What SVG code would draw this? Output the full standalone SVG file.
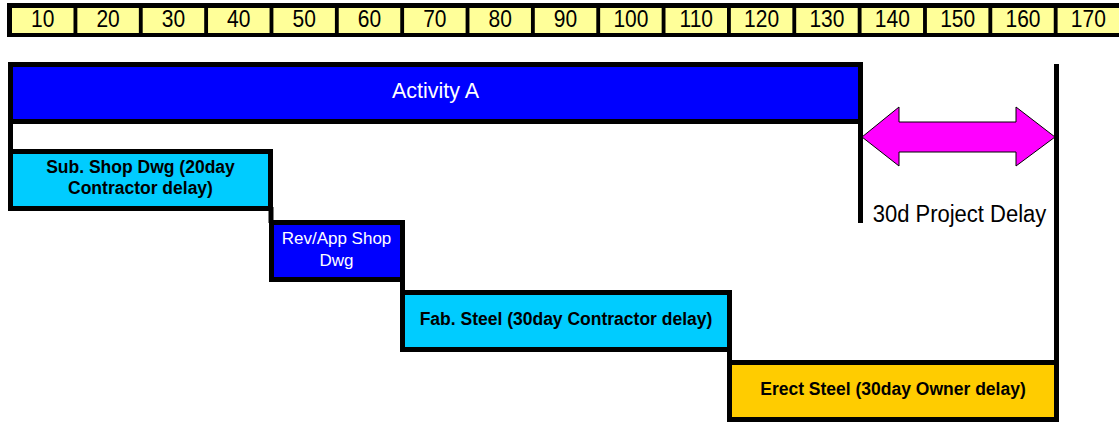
<svg xmlns="http://www.w3.org/2000/svg" width="1119" height="422" viewBox="0 0 1119 422">
<style>
.cell{fill:#FFFF99;}
.num{font-family:"Liberation Sans",Arial,sans-serif;font-size:21px;fill:#000;text-anchor:middle;}
.box{stroke:#000;stroke-width:5;}
.lbl{font-family:"Liberation Sans",Arial,sans-serif;text-anchor:middle;}
.b{font-weight:bold;font-size:17.5px;fill:#000;}
.conn{stroke:#000;stroke-width:5;fill:none;}
</style>
<rect width="1119" height="422" fill="#FFFFFF"/>
<g id="ruler">
<rect x="7" y="3" width="1112" height="34" fill="#000"/>
<rect class="cell" x="12" y="8" width="61.5" height="25"/>
<rect class="cell" x="77.35" y="8" width="61.5" height="25"/>
<rect class="cell" x="142.7" y="8" width="61.5" height="25"/>
<rect class="cell" x="208.05" y="8" width="61.5" height="25"/>
<rect class="cell" x="273.4" y="8" width="61.5" height="25"/>
<rect class="cell" x="338.75" y="8" width="61.5" height="25"/>
<rect class="cell" x="404.1" y="8" width="61.5" height="25"/>
<rect class="cell" x="469.45" y="8" width="61.5" height="25"/>
<rect class="cell" x="534.8" y="8" width="61.5" height="25"/>
<rect class="cell" x="600.15" y="8" width="61.5" height="25"/>
<rect class="cell" x="665.5" y="8" width="61.5" height="25"/>
<rect class="cell" x="730.85" y="8" width="61.5" height="25"/>
<rect class="cell" x="796.2" y="8" width="61.5" height="25"/>
<rect class="cell" x="861.55" y="8" width="61.5" height="25"/>
<rect class="cell" x="926.9" y="8" width="61.5" height="25"/>
<rect class="cell" x="992.25" y="8" width="61.5" height="25"/>
<rect class="cell" x="1057.6" y="8" width="61.4" height="25"/>
<g transform="translate(0,27) scale(1,1.1)">
<text class="num" x="42.75" y="0">10</text>
<text class="num" x="108.1" y="0">20</text>
<text class="num" x="173.45" y="0">30</text>
<text class="num" x="238.8" y="0">40</text>
<text class="num" x="304.15" y="0">50</text>
<text class="num" x="369.5" y="0">60</text>
<text class="num" x="434.85" y="0">70</text>
<text class="num" x="500.2" y="0">80</text>
<text class="num" x="565.55" y="0">90</text>
<text class="num" x="630.9" y="0">100</text>
<text class="num" x="696.25" y="0">110</text>
<text class="num" x="761.6" y="0">120</text>
<text class="num" x="826.95" y="0">130</text>
<text class="num" x="892.3" y="0">140</text>
<text class="num" x="957.65" y="0">150</text>
<text class="num" x="1023" y="0">160</text>
<text class="num" x="1088.3" y="0">170</text>
</g>
</g>
<g id="connectors">
<line class="conn" x1="10.5" y1="121" x2="10.5" y2="152"/>
<line class="conn" x1="271" y1="207" x2="271" y2="223"/>
<line class="conn" x1="402.5" y1="280" x2="402.5" y2="293"/>
<line class="conn" x1="729.5" y1="350" x2="729.5" y2="363"/>
<line class="conn" x1="860.5" y1="62" x2="860.5" y2="223"/>
<line class="conn" x1="1056.5" y1="64" x2="1056.5" y2="363"/>
</g>
<g id="activity-a">
<rect class="box" x="10.5" y="64.5" width="850" height="57" fill="#0000FF"/>
<text class="lbl" x="435.5" y="98" font-size="21.5" fill="#FFFFFF">Activity A</text>
</g>
<g id="sub-shop-dwg">
<rect class="box" x="10.5" y="151.5" width="260" height="57" fill="#00CCFF"/>
<text class="lbl b" x="140.5" y="173">Sub. Shop Dwg (20day</text>
<text class="lbl b" x="140.5" y="194">Contractor delay)</text>
</g>
<g id="rev-app-shop-dwg">
<rect class="box" x="271.5" y="222.5" width="131" height="57" fill="#0000FF"/>
<text class="lbl" x="336.5" y="244" font-size="17" fill="#FFFFFF">Rev/App Shop</text>
<text class="lbl" x="336.5" y="266" font-size="17" fill="#FFFFFF">Dwg</text>
</g>
<g id="fab-steel">
<rect class="box" x="402.5" y="292.5" width="327" height="57" fill="#00CCFF"/>
<text class="lbl b" x="566" y="325">Fab. Steel (30day Contractor delay)</text>
</g>
<g id="erect-steel">
<rect class="box" x="729.5" y="362.5" width="327" height="57" fill="#FFCC00"/>
<text class="lbl b" x="893" y="395">Erect Steel (30day Owner delay)</text>
</g>
<g id="project-delay">
<polygon points="862,137 899,107 899,122 1016,122 1016,107 1055,137 1016,166 1016,152 899,152 899,166" fill="#FF00FF" stroke="#000" stroke-width="1"/>
<text class="lbl" x="959.5" y="0" font-size="22" fill="#000" transform="translate(0,222) scale(1,1.1)">30d Project Delay</text>
</g>
</svg>
